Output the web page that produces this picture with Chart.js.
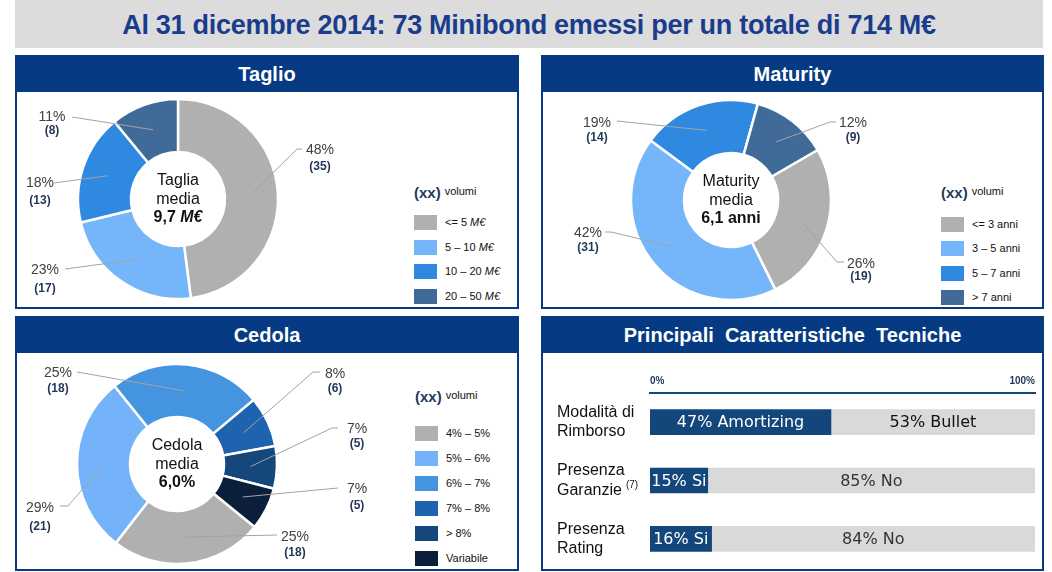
<!DOCTYPE html>
<html><head><meta charset="utf-8">
<script src="https://cdn.jsdelivr.net/npm/chart.js@4.4.1/dist/chart.umd.min.js"></script>
<style>
html,body{margin:0;padding:0;}
body{width:1052px;height:572px;background:#fff;position:relative;overflow:hidden;font-family:Arial,"Liberation Sans",sans-serif;}
#title{position:absolute;left:15px;top:0;width:1028px;height:48px;background:#dcdcdc;}
#title span{position:absolute;left:0;right:0;top:10px;text-align:center;font-weight:bold;font-size:28px;line-height:30px;color:#1a3c8c;transform:scaleX(0.965);white-space:nowrap;letter-spacing:-0.3px;}
.panel{position:absolute;border:2px solid #063a83;box-sizing:border-box;}
.head{position:absolute;left:0;top:0;right:0;height:35px;background:#063a83;color:#fff;font-weight:bold;font-size:20px;text-align:center;line-height:35px;white-space:pre;}
canvas{position:absolute;}
.center{position:absolute;width:110px;text-align:center;font-size:16px;line-height:18.5px;color:#111;}
.center b{font-weight:bold;}
.lg{position:absolute;font-size:11px;color:#111;}
.lg .xx{position:absolute;white-space:nowrap;}
.lg .xx b{font-size:15px;color:#24395a;}
.lg .xx span{position:relative;top:-3px;margin-left:4px;}
.lg .row{position:absolute;left:0;white-space:nowrap;}
.lg .sw{position:absolute;left:0;width:23px;height:15px;}
.lg .tx{position:absolute;left:31px;top:0;line-height:15px;}
</style></head>
<body>
<div id="title"><span>Al 31 dicembre 2014: 73 Minibond emessi per un totale di 714 M€</span></div>

<div class="panel" style="left:15px;top:55px;width:504px;height:254px;"><div class="head">Taglio</div></div>
<div class="panel" style="left:541px;top:55px;width:503px;height:254px;"><div class="head">Maturity</div></div>
<div class="panel" style="left:15px;top:316px;width:504px;height:255px;"><div class="head">Cedola</div></div>
<div class="panel" style="left:541px;top:316px;width:503px;height:255px;"><div class="head">Principali  Caratteristiche  Tecniche</div></div>

<canvas id="cTaglio" width="380" height="215" style="left:17px;top:92px;"></canvas>
<canvas id="cMaturity" width="387" height="215" style="left:543px;top:92px;"></canvas>
<canvas id="cCedola" width="383" height="216" style="left:17px;top:352px;"></canvas>
<canvas id="cBar" width="500" height="216" style="left:543px;top:352px;"></canvas>

<div id="lgTaglio" class="lg" style="left:414px;top:184px;"></div>
<div id="lgMaturity" class="lg" style="left:941px;top:184px;"></div>
<div id="lgCedola" class="lg" style="left:415px;top:388px;"></div>

<div id="ctTaglio" class="center"><div>Taglia</div><div>media</div><div><b>9,7 <i>M€</i></b></div></div>
<div id="ctMaturity" class="center"><div>Maturity</div><div>media</div><div><b>6,1 anni</b></div></div>
<div id="ctCedola" class="center"><div>Cedola</div><div>media</div><div><b>6,0%</b></div></div>

<script>
// ---------- DATA ----------
const taglioCategories = ["<= 5 M€", "5 – 10 M€", "10 – 20 M€", "20 – 50 M€"];
const taglioCounts = [35, 17, 13, 8];

const maturityCategories = ["<= 3 anni", "3 – 5 anni", "5 – 7 anni", "> 7 anni"];
const maturityCounts = [19, 31, 14, 9];

const cedolaCategories = ["4% – 5%", "5% – 6%", "6% – 7%", "7% – 8%", "> 8%", "Variabile"];
const cedolaCounts = [18, 21, 18, 6, 5, 5];

const barCategories = [["Modalità di", "Rimborso"], ["Presenza", "Garanzie"], ["Presenza", "Rating"]];
const barFootnotes = ["", "(7)", ""];
const barFirstValues = [47, 15, 16];
const barSecondValues = [53, 85, 84];
const barFirstLabels = ["Amortizing", "Si", "Si"];
const barSecondLabels = ["Bullet", "No", "No"];
const barTicks = [0, 100];

// ---------- STYLE / LAYOUT ----------
const palette4 = ['#b0b0b0', '#75b6fb', '#2f89e0', '#406b99'];
const palette6 = ['#b0b0b0', '#74b3fa', '#4494e0', '#1e63b0', '#15467c', '#0b1f3b'];
const FONT = 'Arial, "Liberation Sans", sans-serif';

// label placements relative to donut centre: elbow (ex,ey), optional horizontal end hx, text (tx,ty), count y (cy)
const taglioLabelLayout = [
  {ex:119, ey:-50, hx:124, tx:142, ty:-49, cy:-32},
  {ex:-113, ey:70, tx:-133, ty:71, cy:90},
  {ex:-124, ey:-16, tx:-138, ty:-16, cy:2},
  {ex:-106, ey:-82, tx:-126, ty:-82, cy:-68}
];
const maturityLabelLayout = [
  {ex:106, ey:62, hx:113, tx:130, ty:64, cy:77},
  {ex:-120, ey:32, hx:-126, tx:-143, ty:33, cy:48},
  {ex:-114, ey:-79, tx:-134, ty:-77, cy:-62},
  {ex:99, ey:-78, hx:105, tx:122, ty:-77, cy:-62}
];
const cedolaLabelLayout = [
  {ex:100, ey:71, tx:118, ty:73, cy:89},
  {ex:-109, ey:42, hx:-117, tx:-137, ty:44, cy:63},
  {ex:-100, ey:-92, tx:-119, ty:-91, cy:-75},
  {ex:136, ey:-92, hx:143, tx:158, ty:-90, cy:-75},
  {ex:155, ey:-36, hx:161, tx:180, ty:-35, cy:-20},
  {ex:161, ey:24, tx:180, ty:25, cy:42}
];

Chart.defaults.font.family = FONT;

const leaderPlugin = {
  id: 'leader',
  afterDatasetsDraw(chart, args, opts) {
    const ctx = chart.ctx;
    const meta = chart.getDatasetMeta(0);
    const data = chart.data.datasets[0].data;
    const total = data.reduce((a, b) => a + b, 0);
    meta.data.forEach((arc, i) => {
      const L = opts.layout[i];
      const cx = arc.x, cy = arc.y;
      const p = arc.getCenterPoint();
      ctx.save();
      ctx.strokeStyle = '#a3a3a3';
      ctx.lineWidth = 1;
      ctx.beginPath();
      ctx.moveTo(p.x, p.y);
      ctx.lineTo(cx + L.ex, cy + L.ey);
      if (L.hx !== undefined) ctx.lineTo(cx + L.hx, cy + L.ey);
      ctx.stroke();
      ctx.textAlign = 'center';
      ctx.textBaseline = 'middle';
      ctx.font = '14px ' + FONT;
      ctx.fillStyle = '#404040';
      ctx.fillText(Math.round(data[i] / total * 100) + '%', cx + L.tx, cy + L.ty);
      ctx.font = 'bold 12px ' + FONT;
      ctx.fillStyle = '#24395a';
      ctx.fillText('(' + data[i] + ')', cx + L.tx, cy + L.cy);
      ctx.restore();
    });
  }
};

function makeDonut(id, labels, counts, colors, rotation, centre, layout, centreId) {
  const cv = document.getElementById(id);
  const ox = parseFloat(cv.style.left), oy = parseFloat(cv.style.top);
  const R = 100;
  const lx = centre[0] - ox, ly = centre[1] - oy;
  const chart = new Chart(cv, {
    type: 'doughnut',
    data: { labels: labels, datasets: [{ data: counts, backgroundColor: colors, borderColor: '#ffffff', borderWidth: 2.5 }] },
    options: {
      responsive: false, animation: false, devicePixelRatio: 1, events: [],
      rotation: rotation, radius: R, cutout: '47%',
      layout: { padding: { left: lx - R, right: cv.width - (lx + R), top: ly - R, bottom: cv.height - (ly + R) } },
      plugins: { legend: { display: false }, tooltip: { enabled: false }, leader: { layout: layout } }
    },
    plugins: [leaderPlugin]
  });
  const a = chart.getDatasetMeta(0).data[0];
  const ct = document.getElementById(centreId);
  ct.style.left = (ox + a.x - 55) + 'px';
  ct.style.top = (oy + a.y - 28) + 'px';
  return chart;
}

function makeLegend(id, labels, colors, firstRowTop, step) {
  const el = document.getElementById(id);
  let html = '<div class="xx" style="top:0;left:0"><b>(xx)</b><span>volumi</span></div>';
  labels.forEach((l, i) => {
    const t = l.replace(/&/g, '&amp;').replace(/</g, '&lt;').replace(/>/g, '&gt;').replace('M€', '<i>M€</i>');
    html += '<div class="row" style="top:' + (firstRowTop + i * step) + 'px"><div class="sw" style="background:' + colors[i] + '"></div><div class="tx">' + t + '</div></div>';
  });
  el.innerHTML = html;
}

makeDonut('cTaglio', taglioCategories, taglioCounts, palette4, 0, [178, 199], taglioLabelLayout, 'ctTaglio');
makeDonut('cMaturity', maturityCategories, maturityCounts, palette4, 60, [731, 200], maturityLabelLayout, 'ctMaturity');
makeDonut('cCedola', cedolaCategories, cedolaCounts, palette6, 129, [177, 464], cedolaLabelLayout, 'ctCedola');

makeLegend('lgTaglio', taglioCategories, palette4, 31, 24.7);
makeLegend('lgMaturity', maturityCategories, palette4, 33, 24.3);
makeLegend('lgCedola', cedolaCategories, palette6, 38, 25);

// ---------- BAR CHART ----------
const Y_FONT_SIZE = 16, Y_LINE_H = 1.2;
const barLabelPlugin = {
  id: 'barLabels',
  afterDatasetsDraw(chart) {
    const ctx = chart.ctx;
    const texts = [barFirstLabels, barSecondLabels];
    const colors = ['#ffffff', '#333333'];
    chart.data.datasets.forEach((ds, di) => {
      chart.getDatasetMeta(di).data.forEach((bar, i) => {
        ctx.save();
        ctx.font = '16px "DejaVu Sans", Verdana, sans-serif';
        ctx.fillStyle = (di === 1 && i === 0) ? '#111111' : colors[di];
        ctx.textAlign = 'center';
        ctx.textBaseline = 'middle';
        ctx.fillText(ds.data[i] + '% ' + texts[di][i], (bar.base + bar.x) / 2, bar.y + 1);
        ctx.restore();
      });
    });
  },
  afterDraw(chart) {
    // superscript footnote markers after the last line of a category label
    const ctx = chart.ctx;
    const y = chart.scales.y;
    barFootnotes.forEach((fn, i) => {
      if (!fn) return;
      const lines = barCategories[i];
      const lh = Y_FONT_SIZE * Y_LINE_H;
      const lastY = y.getPixelForTick(i) + (lines.length - 1) * lh / 2;
      ctx.save();
      ctx.font = Y_FONT_SIZE + 'px ' + FONT;
      const w = ctx.measureText(lines[lines.length - 1]).width;
      ctx.font = '10px ' + FONT;
      ctx.fillStyle = '#111';
      ctx.textAlign = 'left';
      ctx.textBaseline = 'middle';
      ctx.fillText(fn, y.left + w + 4, lastY - 5);
      ctx.restore();
    });
  }
};

new Chart(document.getElementById('cBar'), {
  type: 'bar',
  data: {
    labels: barCategories,
    datasets: [
      { data: barFirstValues, backgroundColor: '#13467a', barThickness: 25 },
      { data: barSecondValues, backgroundColor: '#d9d9d9', barThickness: 25 }
    ]
  },
  options: {
    indexAxis: 'y', responsive: false, animation: false, devicePixelRatio: 1, events: [],
    layout: { padding: { left: 14, right: 8, top: 17, bottom: 0 } },
    scales: {
      x: {
        stacked: true, position: 'top', min: 0, max: 100,
        grid: { display: false, drawTicks: false },
        border: { display: true, color: '#13467a', width: 2 },
        afterBuildTicks: (axis) => { axis.ticks = barTicks.map(v => ({ value: v })); },
        ticks: { align: 'inner', padding: 6, color: '#24395a', font: { size: 10, weight: 'bold' }, callback: (v) => v + '%' }
      },
      y: {
        stacked: true,
        grid: { display: false },
        border: { display: false },
        ticks: { crossAlign: 'far', padding: 0, color: '#111', font: { size: Y_FONT_SIZE, lineHeight: Y_LINE_H } },
        afterFit: (axis) => { axis.width = 93; axis.paddingTop = 0; axis.paddingBottom = 0; }
      }
    },
    plugins: { legend: { display: false }, tooltip: { enabled: false } }
  },
  plugins: [barLabelPlugin]
});
</script>
</body></html>
